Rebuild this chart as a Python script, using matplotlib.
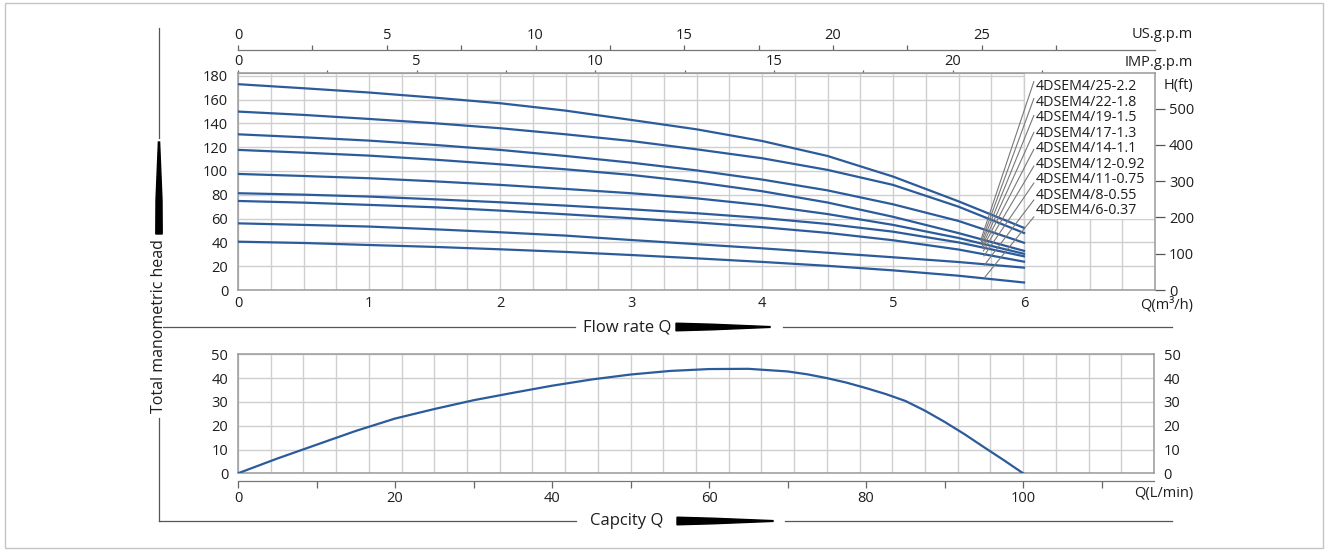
import numpy as np
import matplotlib
matplotlib.use('Agg')
import matplotlib.pyplot as plt
from matplotlib.patches import Rectangle, Polygon

plt.rcParams['font.family'] = ['Open Sans', 'DejaVu Sans']

# ---- data ----
# flow rate, m3/h
flow = [0, 0.5, 1, 1.5, 2, 2.5, 3, 3.5, 4, 4.5, 5, 5.5, 6]

models = ['4DSEM4/25-2.2', '4DSEM4/22-1.8', '4DSEM4/19-1.5', '4DSEM4/17-1.3',
          '4DSEM4/14-1.1', '4DSEM4/12-0.92', '4DSEM4/11-0.75', '4DSEM4/8-0.55',
          '4DSEM4/6-0.37']

# total head, m
head_25 = [172.9, 169.5, 165.9, 161.6, 156.9, 150.7, 142.9, 135.0, 125.2, 112.6, 95.3, 74.5, 52.2]
head_22 = [149.9, 147.1, 143.7, 140.1, 135.9, 130.8, 125.2, 118.2, 110.7, 100.9, 88.3, 70.0, 47.9]
head_19 = [130.8, 128.3, 125.5, 121.9, 117.7, 112.6, 107.0, 100.5, 92.8, 83.7, 72.0, 58.0, 39.7]
head_17 = [117.7, 115.4, 112.9, 109.5, 105.6, 101.4, 96.7, 90.6, 83.0, 73.5, 61.5, 47.8, 32.9]
head_14 = [97.5, 95.8, 93.9, 91.3, 88.3, 84.9, 81.3, 77.0, 71.3, 63.8, 54.7, 43.7, 30.4]
head_12 = [81.3, 80.1, 78.5, 76.2, 73.7, 70.9, 67.8, 64.5, 60.5, 55.5, 49.0, 40.0, 28.3]
head_11 = [74.8, 73.4, 71.5, 69.5, 66.7, 63.6, 60.3, 56.8, 52.8, 48.0, 41.8, 34.0, 23.8]
head_8 = [56.0, 54.7, 53.3, 51.0, 48.5, 45.7, 42.0, 38.5, 35.0, 31.3, 27.5, 23.5, 18.8]
head_6 = [40.6, 39.5, 37.8, 36.2, 34.2, 32.0, 29.4, 26.6, 23.6, 20.3, 16.5, 12.0, 6.3]
heads = [head_25, head_22, head_19, head_17, head_14, head_12, head_11, head_8, head_6]

# efficiency curve
capacity = [0, 5, 10, 15, 20, 25, 30, 35, 40, 45, 50, 55, 60, 65, 70, 72.5, 75, 77.5,
            80, 82.5, 85, 87.5, 90, 92.5, 95, 97.5, 100]
efficiency = [0, 6.2, 12, 17.8, 23, 27, 30.7, 33.8, 36.8, 39.4, 41.5, 43, 43.8, 43.9, 42.8,
              41.6, 40, 38.1, 35.8, 33.3, 30.4, 26.3, 21.6, 16.5, 11, 5.6, 0]

# leader line lower ends (head, m)
leader_end = [42, 40.3, 38.7, 37, 35.3, 32.8, 28.6, 21, 10.9]

M3H_TO_IMP = 3.666
M3H_TO_US = 4.403
M_TO_FT = 3.2808

W, H = 1326, 552
blue = '#2c5b9c'
grid_c = '#cfcfcf'
frame_c = '#9a9a9a'
txt_c = '#1e1e1e'


def fx(px):
    return px / W


def fy(py):
    return 1 - py / H


fig = plt.figure(figsize=(W / 100, H / 100), dpi=100)

# ---- decorations in pixel space ----
deco = fig.add_axes([0, 0, 1, 1], zorder=-5)
deco.set_xlim(0, W)
deco.set_ylim(H, 0)
deco.axis('off')
deco.add_patch(Rectangle((5, 3), 1318, 545, fill=False, ec='#c4c4c4', lw=1))
lc = '#555555'
deco.plot([163, 575], [327, 327], color=lc, lw=0.9)
deco.plot([783, 1172], [327, 327], color=lc, lw=0.9)
deco.text(583, 327, 'Flow rate Q', fontsize=12, va='center', ha='left', color=txt_c)
deco.add_patch(Polygon([(676, 323.2), (712, 324.2), (770, 326.6), (770, 327.4),
                        (712, 329.8), (676, 330.8)], color='black'))
deco.plot([159, 576], [521, 521], color=lc, lw=0.9)
deco.plot([785, 1172], [521, 521], color=lc, lw=0.9)
deco.text(590, 521, 'Capcity Q', fontsize=12, va='center', ha='left', color=txt_c)
deco.add_patch(Polygon([(677, 517.2), (713, 518.2), (773, 520.6), (773, 521.4),
                        (713, 523.8), (677, 524.8)], color='black'))
deco.plot([159, 159], [28, 138], color=lc, lw=0.9)
deco.plot([159, 159], [418, 521], color=lc, lw=0.9)
deco.add_patch(Polygon([(158.4, 142), (159.6, 142), (162.0, 200), (162.2, 234),
                        (155.8, 234), (156.0, 200)], color='black'))
deco.text(159, 326, 'Total manometric head', fontsize=11.5, rotation=90,
          va='center', ha='center', color=txt_c)

# ---- head curves ----
ax = fig.add_axes([fx(238), fy(290), fx(1155) - fx(238), fy(73) - fy(290)])
ax.set_xlim(0, 7)
ax.set_ylim(0, 182.3)
ax.set_axisbelow(True)
ax.set_xticks(range(7))
ax.set_xticks(np.arange(0, 7.01, 0.25), minor=True)
ax.set_yticks(range(0, 181, 20))
ax.grid(True, which='both', axis='x', color=grid_c, lw=1)
ax.grid(True, which='major', axis='y', color=grid_c, lw=1)
ax.tick_params(axis='both', which='both', length=0, labelsize=10.5, colors=txt_c)
ax.tick_params(axis='y', pad=7)
ax.tick_params(axis='x', pad=4)
for s in ax.spines.values():
    s.set_color(frame_c)
    s.set_linewidth(1.1)

for h in heads:
    ax.plot(flow, h, color=blue, lw=1.6, zorder=3)

# white label box over the grid
ax.add_patch(Rectangle((6, 60), 1.2, 130, facecolor='white', edgecolor='none', zorder=1))
ax.axvline(6, color=grid_c, lw=1, zorder=1.2)

for i, name in enumerate(models):
    ly = 170.8 - 13.03 * i
    ty = 175.0 - 14.2 * i
    ax.plot([5.67 + 0.004 * i, 6.075], [leader_end[i], ty], color='#777777', lw=0.8, zorder=4)
    ax.text(6.09, ly, name, fontsize=10.3, va='center', ha='left', color=txt_c, zorder=5)

# IMP g.p.m on the top edge
imp = ax.secondary_xaxis('top', functions=(lambda q: q * M3H_TO_IMP, lambda g: g / M3H_TO_IMP))
imp.set_xticks([0, 5, 10, 15, 20])
imp.set_xticks(np.arange(2.5, 23, 5), minor=True)
imp.tick_params(which='both', length=2.5, width=0.9, color='#666666', pad=0.5,
                labelsize=10.5, labelcolor=txt_c)
imp.spines['top'].set_color(frame_c)

# US g.p.m further up
us = ax.secondary_xaxis(1 + 23 / 217, functions=(lambda q: q * M3H_TO_US, lambda g: g / M3H_TO_US))
us.set_xticks([0, 5, 10, 15, 20, 25])
us.set_xticks(np.arange(2.5, 28, 5), minor=True)
us.tick_params(which='both', length=3.5, width=0.9, color='#666666', pad=1.5,
               labelsize=10.5, labelcolor=txt_c)
us.spines['top'].set_color('#777777')
us.spines['top'].set_linewidth(0.9)

ft = ax.secondary_yaxis('right', functions=(lambda m: m * M_TO_FT, lambda f: f / M_TO_FT))
ft.set_yticks(range(0, 501, 100))
ft.tick_params(length=7, width=0.9, color='#555555', pad=3, labelsize=10.5, labelcolor=txt_c)
ft.spines['right'].set_visible(False)

fig.text(fx(1193), fy(35), 'US.g.p.m', fontsize=10.5, ha='right', va='center', color=txt_c)
fig.text(fx(1193), fy(63), 'IMP.g.p.m', fontsize=10.5, ha='right', va='center', color=txt_c)
fig.text(fx(1193), fy(86), 'H(ft)', fontsize=10.5, ha='right', va='center', color=txt_c)
fig.text(fx(1193), fy(305), 'Q(m³/h)', fontsize=10.5, ha='right', va='center', color=txt_c)

# ---- efficiency curve ----
ax2 = fig.add_axes([fx(238), fy(473.3), fx(1154) - fx(238), fy(354.3) - fy(473.3)])
ax2.set_xlim(0, 700 / 6)
ax2.set_ylim(0, 50)
ax2.set_axisbelow(True)
ax2.set_xticks(np.arange(0, 117, 25 / 6))
ax2.set_yticks(range(0, 51, 10))
ax2.grid(True, color=grid_c, lw=1)
ax2.tick_params(axis='x', length=0, labelbottom=False)
ax2.tick_params(axis='y', length=0, labelsize=10.5, colors=txt_c, pad=7,
                labelright=True)
for s in ax2.spines.values():
    s.set_color(frame_c)
    s.set_linewidth(1.1)
ax2.plot(capacity, efficiency, color=blue, lw=1.6, zorder=3)

cap = ax2.secondary_xaxis(-8 / 119)
cap.set_xticks([0, 20, 40, 60, 80, 100])
cap.set_xticks(range(10, 111, 20), minor=True)
cap.tick_params(which='both', length=5, width=0.9, color='#666666', pad=2,
                labelsize=10.5, labelcolor=txt_c)
cap.spines['bottom'].set_color('#777777')
cap.spines['bottom'].set_linewidth(0.9)

fig.text(fx(1193), fy(494), 'Q(L/min)', fontsize=10.5, ha='right', va='center', color=txt_c)

fig.savefig('out.png', dpi=100, facecolor='white')
